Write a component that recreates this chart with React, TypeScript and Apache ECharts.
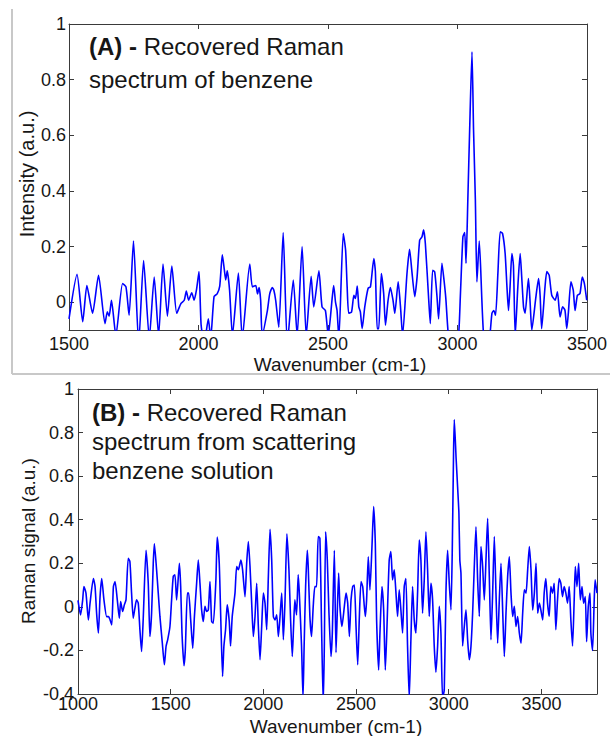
import React, { useEffect, useRef } from "react";
import * as echarts from "echarts";

// Panel A: recovered Raman spectrum of benzene
const wavenumbersA = [
  1500, 1531, 1553, 1569, 1591, 1614, 1639, 1648, 1655, 1664, 1681, 1707, 1720, 1732, 1749, 1769, 1788, 1810, 1829, 1846,
  1863, 1880, 1897, 1916, 1932, 1945, 1953, 1962, 1974, 1983, 1992, 2002, 2010, 2022, 2038, 2047, 2060, 2072, 2082, 2092,
  2100, 2105, 2111, 2120, 2131, 2154, 2169, 2198, 2208, 2221, 2228, 2234, 2240, 2246, 2266, 2275, 2285, 2291, 2298, 2310,
  2327, 2343, 2366, 2381, 2400, 2416, 2435, 2445, 2465, 2477, 2490, 2501, 2516, 2522, 2529, 2535, 2542, 2559, 2568, 2574,
  2580, 2591, 2600, 2606, 2613, 2619, 2625, 2632, 2642, 2655, 2664, 2677, 2683, 2690, 2696, 2706, 2715, 2722, 2732, 2741,
  2751, 2758, 2771, 2780, 2788, 2805, 2815, 2824, 2835, 2844, 2854, 2863, 2869, 2876, 2889, 2895, 2904, 2912, 2921, 2927,
  2940, 2948, 2955, 2966, 2985, 3004, 3011, 3021, 3028, 3033, 3040, 3047, 3056, 3062, 3069, 3075, 3084, 3101, 3120, 3133,
  3140, 3147, 3156, 3165, 3174, 3184, 3191, 3197, 3203, 3210, 3216, 3223, 3233, 3242, 3248, 3255, 3261, 3274, 3280, 3287,
  3302, 3313, 3319, 3325, 3338, 3345, 3354, 3364, 3377, 3386, 3396, 3406, 3415, 3422, 3428, 3438, 3447, 3454, 3463, 3473,
  3482, 3490, 3499,
];
const intensityA = [
  -0.06, 0.1, -0.07, 0.06, -0.04, 0.097, -0.077, -0.035, -0.05, 0.007, -0.12, 0.067, 0.055, -0.047, 0.22, -0.15, 0.15, -0.13, 0.09, -0.12,
  0.137, -0.05, 0.13, -0.04, -0.005, 0.007, 0.04, 0.007, 0.034, 0.007, 0.043, 0.11, -0.08, -0.15, -0.06, -0.13, 0.02, 0.03, 0.058, 0.17,
  0.115, 0.08, 0.113, 0.043, -0.12, 0.105, -0.13, 0.137, 0.055, 0.06, 0.03, 0.053, 0.007, -0.12, -0.03, 0.03, 0.053, 0.043, 0.007, -0.09,
  0.25, -0.15, 0.08, -0.12, 0.2, -0.12, 0.093, -0.017, 0.113, -0.017, -0.03, -0.12, 0.013, 0.06, 0.0, -0.03, -0.13, 0.247, 0.187, 0.055,
  -0.04, -0.035, 0.025, 0.013, 0.058, -0.017, -0.035, -0.095, -0.017, 0.05, 0.055, 0.157, 0.11, -0.095, -0.095, 0.103, 0.031, -0.083, 0.007, 0.053,
  0.007, -0.04, 0.073, -0.017, -0.12, 0.103, 0.19, 0.11, 0.02, 0.09, 0.223, 0.235, 0.26, 0.21, 0.007, -0.077, 0.115, 0.109, 0.019, -0.06,
  0.14, 0.079, 0.013, -0.13, -0.2, -0.12, 0.02, 0.235, 0.25, 0.14, 0.37, 0.62, 0.9, 0.62, 0.37, 0.073, 0.22, -0.12, -0.15, -0.04,
  -0.03, -0.047, 0.103, 0.253, 0.247, 0.175, 0.055, -0.03, 0.055, 0.175, 0.133, -0.12, 0.055, 0.175, 0.091, -0.017, -0.04, 0.085, 0.007, -0.1,
  0.013, 0.085, 0.025, -0.095, 0.055, 0.11, 0.097, 0.025, 0.007, 0.037, -0.053, -0.017, -0.029, -0.095, -0.04, 0.073, 0.043, -0.03, 0.025, 0.031,
  0.09, 0.067, 0.007,
];

// Panel B: recovered Raman spectrum from scattering benzene solution
const wavenumbersB = [
  1000, 1014, 1025, 1032, 1043, 1056, 1065, 1083, 1092, 1101, 1110, 1119, 1128, 1140, 1155, 1165, 1173, 1182, 1191, 1200,
  1212, 1223, 1230, 1241, 1250, 1259, 1271, 1280, 1289, 1298, 1307, 1316, 1325, 1334, 1343, 1352, 1367, 1379, 1388, 1397,
  1406, 1412, 1424, 1433, 1442, 1455, 1466, 1475, 1484, 1496, 1505, 1514, 1523, 1532, 1547, 1554, 1561, 1572, 1579, 1590,
  1597, 1608, 1619, 1628, 1640, 1649, 1658, 1667, 1676, 1685, 1694, 1703, 1712, 1721, 1730, 1744, 1751, 1762, 1770, 1780,
  1787, 1796, 1805, 1816, 1823, 1832, 1847, 1856, 1865, 1879, 1888, 1901, 1910, 1919, 1928, 1937, 1946, 1955, 1964, 1973,
  1982, 1991, 2000, 2009, 2018, 2027, 2036, 2045, 2054, 2063, 2072, 2081, 2090, 2099, 2108, 2117, 2127, 2138, 2147, 2156,
  2163, 2170, 2179, 2188, 2194, 2206, 2214, 2220, 2228, 2237, 2242, 2251, 2260, 2269, 2278, 2287, 2296, 2305, 2314, 2323,
  2329, 2336, 2345, 2354, 2365, 2372, 2383, 2392, 2406, 2413, 2424, 2437, 2446, 2455, 2464, 2473, 2482, 2491, 2500, 2509,
  2518, 2527, 2536, 2550, 2557, 2566, 2575, 2586, 2595, 2604, 2611, 2622, 2629, 2640, 2649, 2658, 2667, 2679, 2688, 2697,
  2706, 2715, 2724, 2733, 2742, 2751, 2760, 2769, 2778, 2787, 2796, 2805, 2814, 2823, 2832, 2841, 2850, 2859, 2868, 2877,
  2886, 2895, 2904, 2913, 2922, 2931, 2940, 2949, 2958, 2967, 2976, 2985, 2994, 3003, 3012, 3019, 3026, 3030, 3040, 3048,
  3055, 3060, 3066, 3075, 3084, 3093, 3102, 3111, 3120, 3129, 3138, 3147, 3156, 3165, 3174, 3183, 3192, 3201, 3210, 3219,
  3228, 3237, 3246, 3255, 3264, 3273, 3282, 3291, 3300, 3309, 3318, 3327, 3336, 3345, 3354, 3363, 3372, 3381, 3390, 3399,
  3408, 3417, 3426, 3435, 3444, 3453, 3462, 3471, 3480, 3489, 3497, 3507, 3515, 3524, 3533, 3542, 3551, 3560, 3569, 3578,
  3587, 3596, 3605, 3614, 3623, 3632, 3641, 3650, 3659, 3668, 3677, 3683, 3692, 3701, 3710, 3719, 3728, 3737, 3744, 3753,
  3762, 3767, 3776, 3785, 3790, 3800,
];
const signalB = [
  0.03, -0.037, 0.03, 0.093, 0.063, -0.06, 0.017, 0.13, 0.093, -0.037, -0.12, 0.047, 0.13, 0.032, -0.045, -0.045, -0.06, -0.083, 0.093, 0.116,
  0.032, -0.052, 0.024, -0.021, 0.009, 0.032, 0.223, 0.208, 0.063, -0.052, -0.006, 0.032, 0.017, -0.105, -0.205, -0.052, 0.26, 0.108, -0.136, -0.029,
  0.2, 0.29, 0.17, 0.063, -0.044, -0.167, -0.266, -0.182, -0.15, -0.09, 0.032, 0.14, 0.147, 0.032, 0.2, 0.093, -0.12, -0.27, -0.197, 0.063,
  0.063, -0.06, -0.19, -0.045, 0.108, 0.215, 0.108, -0.014, -0.067, 0.002, -0.021, -0.014, 0.116, -0.067, -0.075, 0.124, 0.32, 0.2, -0.044, -0.32,
  -0.182, -0.105, 0.009, -0.067, -0.18, -0.045, 0.063, 0.185, 0.17, 0.215, 0.17, 0.047, 0.2, 0.3, 0.185, 0.017, -0.136, -0.044, 0.108, -0.09,
  -0.243, -0.09, 0.063, 0.017, -0.105, 0.14, 0.356, 0.215, -0.044, -0.06, -0.037, -0.136, -0.044, 0.063, -0.151, 0.032, 0.335, 0.17, -0.06, -0.228,
  -0.09, 0.032, -0.037, 0.147, 0.063, -0.18, -0.42, -0.18, 0.093, 0.26, 0.185, -0.044, -0.136, 0.002, 0.093, 0.093, 0.323, 0.315, -0.09, -0.45,
  -0.18, 0.345, 0.215, -0.029, -0.228, -0.121, 0.26, -0.21, 0.155, 0.002, -0.09, 0.002, 0.063, 0.017, -0.136, 0.032, 0.093, 0.1, -0.09, -0.266,
  -0.044, 0.116, 0.093, -0.044, 0.032, 0.23, 0.078, 0.277, 0.46, 0.292, -0.06, -0.29, -0.121, 0.093, -0.014, -0.29, -0.09, 0.215, 0.254, 0.124,
  0.17, 0.07, -0.044, 0.078, -0.014, -0.12, 0.093, 0.13, -0.182, -0.42, -0.151, 0.093, -0.06, -0.12, 0.063, 0.307, 0.215, -0.029, 0.124, 0.345,
  0.17, -0.044, 0.108, 0.032, -0.182, -0.3, -0.182, 0.002, -0.121, -0.42, -0.38, 0.063, 0.26, 0.108, -0.014, 0.25, 0.7, 0.86, 0.68, 0.55,
  0.43, 0.215, 0.155, -0.18, -0.09, -0.014, -0.151, -0.243, -0.182, -0.029, 0.185, 0.368, 0.124, -0.044, 0.277, 0.185, 0.032, 0.215, 0.407, 0.139,
  -0.151, 0.063, 0.323, 0.063, -0.167, 0.032, 0.2, -0.014, -0.228, -0.029, 0.14, 0.23, 0.063, -0.044, 0.002, -0.09, -0.044, -0.12, -0.167, -0.029,
  0.078, 0.063, 0.17, 0.277, 0.17, -0.014, 0.063, 0.2, -0.029, 0.017, -0.014, -0.06, 0.063, 0.13, 0.017, -0.044, 0.093, 0.063, 0.108, -0.105,
  0.032, 0.13, 0.108, 0.047, 0.093, 0.063, 0.017, 0.093, -0.06, -0.18, 0.032, 0.185, 0.093, 0.2, 0.032, 0.093, 0.017, 0.047, -0.16, 0.002,
  0.063, -0.121, -0.2, 0.032, 0.124, 0.063,
];

const xTicksA = [1500, 2000, 2500, 3000, 3500];
const yTicksA = [0, 0.2, 0.4, 0.6, 0.8, 1];
const xTicksB = [1000, 1500, 2000, 2500, 3000, 3500];
const yTicksB = [-0.4, -0.2, 0, 0.2, 0.4, 0.6, 0.8, 1];

const FONT = "'Liberation Sans', Arial, Helvetica, sans-serif";
const AXIS_COLOR = "#3a3a3a";
const TEXT_COLOR = "#161616";

function fmt(v: number): string {
  const r = Math.round(v * 10) / 10;
  return String(r);
}

function xAxes(grid: number, min: number, max: number, ticks: number[], margin: number) {
  const common = {
    gridIndex: grid,
    type: "value",
    min,
    max,
    splitLine: { show: false },
    axisLine: { show: true, onZero: false, lineStyle: { color: AXIS_COLOR, width: 1 } },
    axisTick: { show: true, inside: true, length: 5, customValues: ticks, lineStyle: { color: AXIS_COLOR } },
  };
  return [
    {
      ...common,
      position: "bottom",
      axisLabel: {
        show: true,
        customValues: ticks,
        margin,
        fontSize: 18,
        fontFamily: FONT,
        color: TEXT_COLOR,
        formatter: (v: number) => String(v),
      },
    },
    { ...common, position: "top", axisLabel: { show: false } },
  ];
}

function yAxes(grid: number, min: number, max: number, ticks: number[], margin: number) {
  const common = {
    gridIndex: grid,
    type: "value",
    min,
    max,
    splitLine: { show: false },
    axisLine: { show: true, onZero: false, lineStyle: { color: AXIS_COLOR, width: 1 } },
    axisTick: { show: true, inside: true, length: 5, customValues: ticks, lineStyle: { color: AXIS_COLOR } },
  };
  return [
    {
      ...common,
      position: "left",
      axisLabel: {
        show: true,
        customValues: ticks,
        margin,
        fontSize: 18,
        fontFamily: FONT,
        color: TEXT_COLOR,
        formatter: (v: number) => fmt(v),
      },
    },
    { ...common, position: "right", axisLabel: { show: false } },
  ];
}

function zip(xs: number[], ys: number[]) {
  return xs.map((x, i) => [x, ys[i]]);
}

export default function App() {
  const ref = useRef<HTMLDivElement>(null);
  useEffect(() => {
    document.body.style.margin = "0";
    if (!ref.current) return;
    const chart = echarts.init(ref.current, undefined, { renderer: "svg" });
    const titleStyle = (text: string, x: number, y: number) => ({
      type: "text",
      x,
      y,
      style: {
        text,
        fontSize: 24,
        fontFamily: FONT,
        fill: TEXT_COLOR,
        verticalAlign: "middle",
        rich: {
          b: { fontWeight: "bold", fontSize: 24, fontFamily: FONT, fill: TEXT_COLOR },
        },
      },
    });
    const nameText = (text: string, x: number, y: number, rotate: boolean, size: number) => ({
      type: "text",
      x,
      y,
      rotation: rotate ? Math.PI / 2 : 0,
      style: {
        text,
        fontSize: size,
        fontFamily: FONT,
        fill: TEXT_COLOR,
        align: "center",
        verticalAlign: "middle",
      },
    });
    chart.setOption({
      animation: false,
      backgroundColor: "#ffffff",
      grid: [
        { left: 69, top: 24, width: 519, height: 306 },
        { left: 78, top: 389, width: 519, height: 305 },
      ],
      xAxis: [...xAxes(0, 1500, 3500, xTicksA, 5), ...xAxes(1, 1000, 3800, xTicksB, 1)],
      yAxis: [...yAxes(0, -0.1, 1, yTicksA, 3), ...yAxes(1, -0.4, 1, yTicksB, 4)],
      series: [
        {
          type: "line",
          xAxisIndex: 0,
          yAxisIndex: 0,
          data: zip(wavenumbersA, intensityA),
          showSymbol: false,
          smooth: 0.2,
          clip: true,
          lineStyle: { color: "#0000ff", width: 1.6 },
        },
        {
          type: "line",
          xAxisIndex: 2,
          yAxisIndex: 2,
          data: zip(wavenumbersB, signalB),
          showSymbol: false,
          smooth: 0.2,
          clip: true,
          lineStyle: { color: "#0000ff", width: 1.6 },
        },
      ],
      graphic: [
        { type: "line", shape: { x1: 12, y1: 9, x2: 12, y2: 374 }, style: { stroke: "#c8c8c8", lineWidth: 2 } },
        { type: "line", shape: { x1: 12, y1: 374, x2: 610, y2: 374 }, style: { stroke: "#c8c8c8", lineWidth: 2 } },
        titleStyle("{b|(A) -} Recovered Raman", 89, 46),
        titleStyle("spectrum of benzene", 89, 79),
        titleStyle("{b|(B) -} Recovered Raman", 92, 412),
        titleStyle("spectrum from scattering", 92, 441),
        titleStyle("benzene solution", 92, 470),
        nameText("Intensity (a.u.)", 27, 174, true, 20),
        nameText("Wavenumber (cm-1)", 340, 364, false, 19),
        nameText("Raman signal (a.u.)", 28, 541, true, 19),
        nameText("Wavenumber (cm-1)", 336, 726, false, 19),
      ],
    });
    return () => chart.dispose();
  }, []);
  return <div ref={ref} style={{ position: "absolute", left: 0, top: 0, width: 610, height: 736 }} />;
}
